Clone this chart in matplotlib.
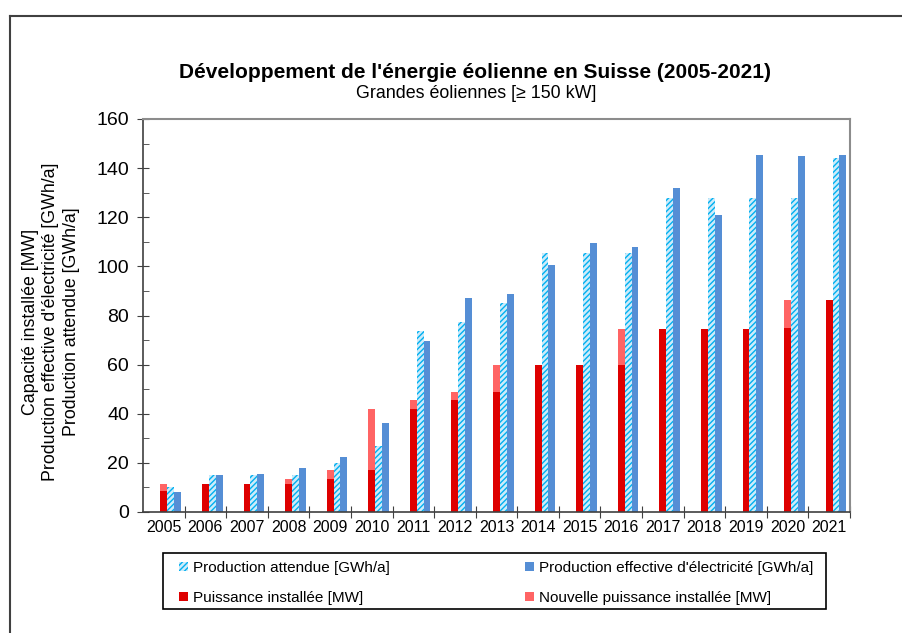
import numpy as np
import matplotlib
matplotlib.use("Agg")
import matplotlib.pyplot as plt
from matplotlib.patches import Patch, Rectangle
from matplotlib.lines import Line2D
from matplotlib.ticker import MultipleLocator

plt.rcParams["font.family"] = ["Liberation Sans", "DejaVu Sans"]
plt.rcParams["hatch.linewidth"] = 1.0

# ============================================================
# DATA
# ============================================================

years = [str(y) for y in range(2005, 2022)]

installed = [8.4, 11.2, 11.2, 11.2, 13.4, 17.2, 42.1, 45.4, 49.0,
             60.0, 60.0, 60.0, 74.6, 74.6, 74.6, 75.0, 86.5]

new_installed = [2.8, 0, 0, 2.2, 3.7, 24.8, 3.3, 3.6, 11.0,
                 0, 0, 14.6, 0, 0, 0, 11.5, 0]

expected = [10.0, 15.0, 15.0, 15.0, 19.9, 26.8, 73.5, 77.2, 84.9,
            105.5, 105.5, 105.5, 127.8, 127.8, 127.8, 127.8, 144.3]

actual = [8.0, 15.0, 15.6, 18.0, 22.2, 36.1, 69.7, 87.3, 88.9,
          100.7, 109.6, 108.0, 132.0, 121.1, 145.3, 144.8, 145.3]

# ============================================================
# STYLE
# ============================================================

RED = "#DE0000"
LIGHT_RED = "#FF6464"
BLUE = "#558ED5"
HATCH_FACE = "#CDEBFA"
HATCH_LINE = "#00B0F0"

W = 0.165

fig = plt.figure(figsize=(9.03, 6.33), dpi=100)

ax = fig.add_axes([143 / 903, 1 - 512 / 633, 707 / 903, 393 / 633])

x = np.arange(len(years))

ax.bar(x, installed, W, color=RED, linewidth=0)
ax.bar(x, new_installed, W, bottom=installed, color=LIGHT_RED, linewidth=0)
ax.bar(x + W, expected, W, color=HATCH_FACE, edgecolor=HATCH_LINE,
       hatch="//////", linewidth=0)
ax.bar(x + 2 * W, actual, W, color=BLUE, linewidth=0)

ax.set_xlim(-0.5, len(years) - 0.5)
ax.set_ylim(0, 160)

ax.yaxis.set_major_locator(MultipleLocator(20))
ax.yaxis.set_minor_locator(MultipleLocator(10))
ax.tick_params(axis="y", which="major", direction="inout", length=8,
               labelsize=14, color="#404040", pad=6)
ax.tick_params(axis="y", which="minor", direction="in", length=4,
               color="#404040")

# category labels centered, tick marks at the boundaries
ax.set_xticks(x + 0.5)
ax.set_xticklabels([""] * len(years))
ax.set_xticks(x, minor=True)
ax.set_xticklabels(years, minor=True)
ax.tick_params(axis="x", which="major", direction="inout", length=8,
               color="#404040")
ax.tick_params(axis="x", which="minor", length=0, labelsize=11.5, pad=6)

for side in ["top", "right"]:
    ax.spines[side].set_color("#8C8C8C")
    ax.spines[side].set_linewidth(1.5)
for side in ["left", "bottom"]:
    ax.spines[side].set_color("#404040")
    ax.spines[side].set_linewidth(1.2)

# ============================================================
# TEXTS
# ============================================================

fig.text(475 / 903, 1 - 72 / 633,
         "Développement de l'énergie éolienne en Suisse (2005-2021)",
         ha="center", va="center", fontsize=15, fontweight="bold")

fig.text(476 / 903, 1 - 93 / 633,
         "Grandes éoliennes [≥ 150 kW]",
         ha="center", va="center", fontsize=12.9)

fig.text(51 / 903, 1 - 322 / 633,
         "Capacité installée [MW]\n"
         "Production effective d'électricité [GWh/a]\n"
         "Production attendue [GWh/a]",
         ha="center", va="center", rotation=90, fontsize=12.8,
         multialignment="center", linespacing=1.25)

# ============================================================
# LEGEND
# ============================================================

handles = [
    Patch(facecolor=HATCH_FACE, edgecolor=HATCH_LINE, hatch="//////",
          linewidth=0),
    Patch(facecolor=RED, linewidth=0),
    Patch(facecolor=BLUE, linewidth=0),
    Patch(facecolor=LIGHT_RED, linewidth=0),
]
labels = [
    "Production attendue [GWh/a]",
    "Puissance installée [MW]",
    "Production effective d'électricité [GWh/a]",
    "Nouvelle puissance installée [MW]",
]

leg = fig.legend(
    handles,
    labels,
    ncol=2,
    loc="center",
    bbox_to_anchor=(173 / 903, 1 - 611 / 633, 646 / 903, 56 / 633),
    mode="expand",
    fontsize=11,
    handlelength=0.6,
    handleheight=0.6,
    handletextpad=0.3,
    labelspacing=1.05,
    borderaxespad=0,
    frameon=False,
)

fig.add_artist(Rectangle((163 / 903, 1 - 609 / 633), 663 / 903, 56 / 633,
                         transform=fig.transFigure, facecolor="none",
                         edgecolor="black", linewidth=1.2))

# outer frame (cropped on the right and bottom)
fig.add_artist(Line2D([10 / 903, 10 / 903], [0, 1 - 16 / 633],
                      transform=fig.transFigure, color="#404040", lw=1.5))
fig.add_artist(Line2D([10 / 903, 1], [1 - 16 / 633, 1 - 16 / 633],
                      transform=fig.transFigure, color="#404040", lw=1.5))

fig.savefig("out.png", dpi=100)
